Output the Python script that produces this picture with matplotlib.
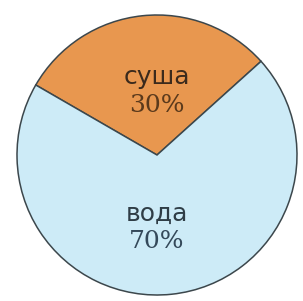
import matplotlib
matplotlib.use("Agg")
import matplotlib.pyplot as plt

# data
labels = ["суша", "вода"]
shares = [30, 70]
colors = ["#E8974F", "#CDEBF7"]
name_colors = ["#3b2a1c", "#2f3d46"]
pct_colors = ["#5b3a1c", "#34495a"]

fig = plt.figure(figsize=(3.03, 3.01), dpi=100)
ax = fig.add_axes([0, 0, 1, 1])

r = 140.0
ax.pie(shares, colors=colors, startangle=42, counterclock=True, radius=1.0,
       wedgeprops=dict(edgecolor="#3c474c", linewidth=1.1))

# map pixels so the circle sits like in the reference
cx, cy = 157, 155
ax.set_xlim(-cx / r, (303 - cx) / r)
ax.set_ylim(-(301 - cy) / r, cy / r)
ax.set_aspect("auto")
ax.axis("off")

# label rows (pixel y from top)
name_y = [77, 214]
pct_y = [105, 241]
for i in range(len(labels)):
    ax.text(0, (cy - name_y[i]) / r, labels[i], ha="center", va="center",
            fontsize=18, family="DejaVu Sans", color=name_colors[i])
    ax.text(0, (cy - pct_y[i]) / r, f"{shares[i]}%", ha="center", va="center",
            fontsize=18, family="DejaVu Serif", color=pct_colors[i])

fig.savefig("out.png", dpi=100, facecolor="white")
